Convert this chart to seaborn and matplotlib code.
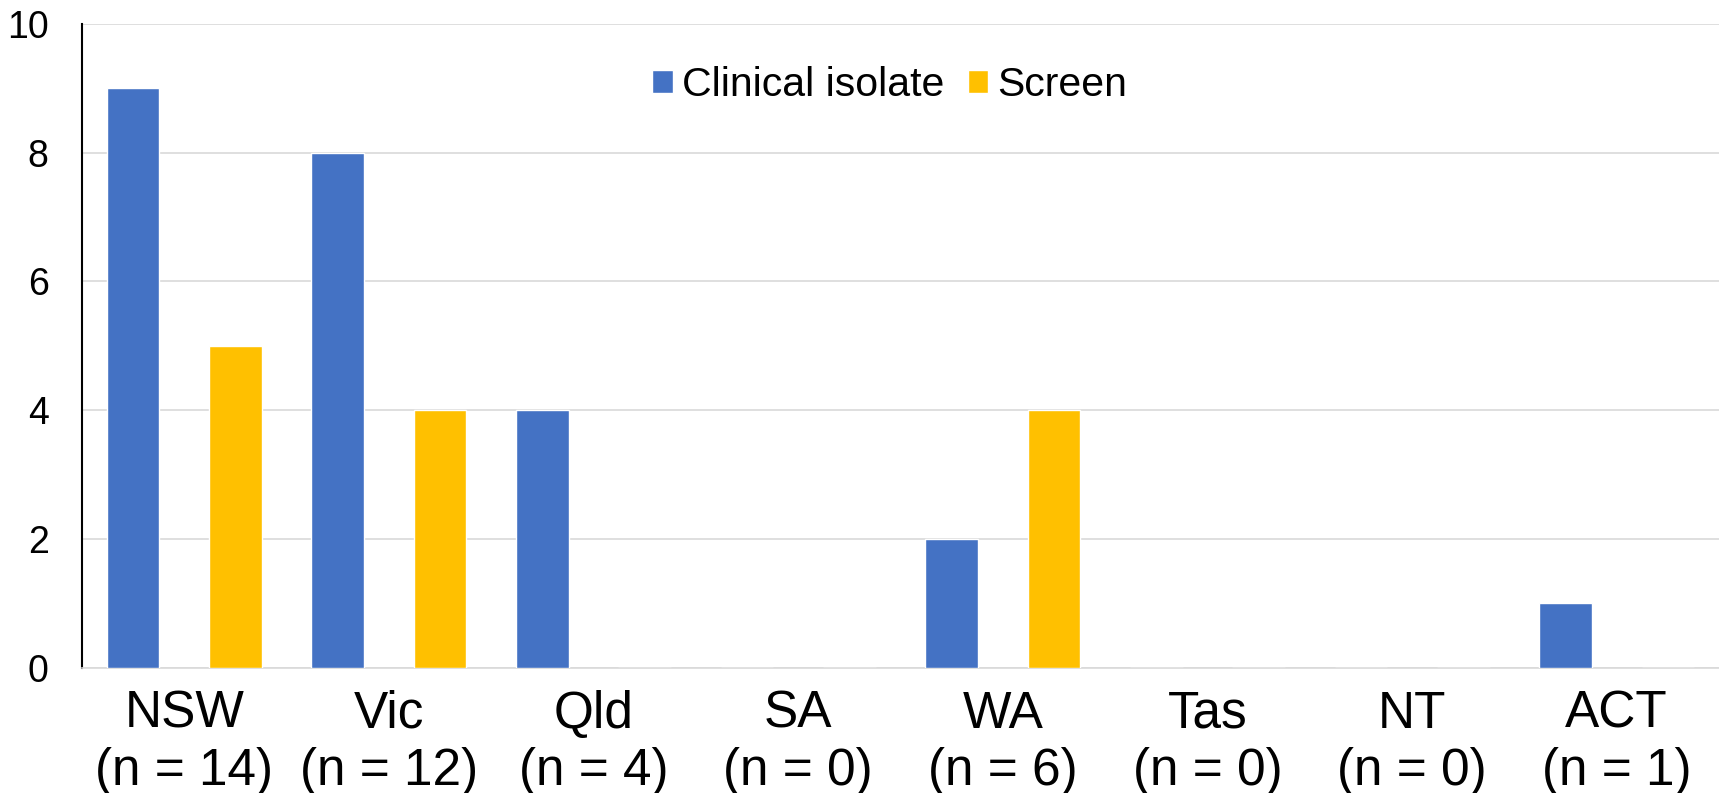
import matplotlib
matplotlib.use("Agg")
import matplotlib.pyplot as plt
import numpy as np
import pandas as pd
import seaborn as sns

states = ["NSW", "Vic", "Qld", "SA", "WA", "Tas", "NT", "ACT"]
totals = [14, 12, 4, 0, 6, 0, 0, 1]
clinical = [9, 8, 4, 0, 2, 0, 0, 1]
screen = [5, 4, 0, 0, 4, 0, 0, 0]
series = ["Clinical isolate", "Screen"]
colors = {"Clinical isolate": "#4472C4", "Screen": "#FFC000"}

labels = [f"{s}\n(n = {n})" for s, n in zip(states, totals)]
df = pd.DataFrame({
    "state": labels * 2,
    "source": [series[0]] * len(states) + [series[1]] * len(states),
    "count": clinical + screen,
})

sns.set_style("white")
plt.rcParams["font.family"] = ["Liberation Sans", "DejaVu Sans"]
plt.rcParams.update({"text.color": "black", "xtick.color": "black",
                     "ytick.color": "black", "axes.labelcolor": "black"})

fig = plt.figure(figsize=(17.19, 7.93), dpi=100)
ax = fig.add_axes([0.0477, 0.158, 0.9523, 0.812])

sns.barplot(data=df, x="state", y="count", hue="source", palette=colors,
            width=1.0, gap=0.486, saturation=1, ax=ax, zorder=3)

ax.set_xlim(-0.5, len(states) - 0.5)
ax.set_ylim(0, 10)
ax.set_yticks([0, 2, 4, 6, 8, 10])
ax.yaxis.grid(True, color="#D9D9D9", lw=1.2, zorder=0)
ax.set_axisbelow(True)
ax.set_xlabel("")
ax.set_ylabel("")

for side in ["top", "right"]:
    ax.spines[side].set_visible(False)
ax.spines["left"].set_color("black")
ax.spines["left"].set_linewidth(1.5)
ax.spines["bottom"].set_color("#D9D9D9")
ax.spines["bottom"].set_linewidth(1.2)

ax.tick_params(axis="y", length=0, pad=24, labelsize=27, labelcolor="black")
ax.tick_params(axis="x", which="major", length=0, pad=16, labelsize=37,
               labelcolor="black")
ax.set_xticks(np.arange(len(states)) + 0.5, minor=True)
ax.tick_params(axis="x", which="minor", length=120, color="#D9D9D9", width=1.2)

handles, labs = ax.get_legend_handles_labels()
leg = ax.legend(handles, labs, loc="center", bbox_to_anchor=(0.4935, 0.905),
                ncol=2, frameon=False, fontsize=29.5, handlelength=0.5,
                handleheight=0.5, handletextpad=0.23, columnspacing=0.56)
for t in leg.get_texts():
    t.set_color("black")

fig.savefig("out.png", dpi=100)
